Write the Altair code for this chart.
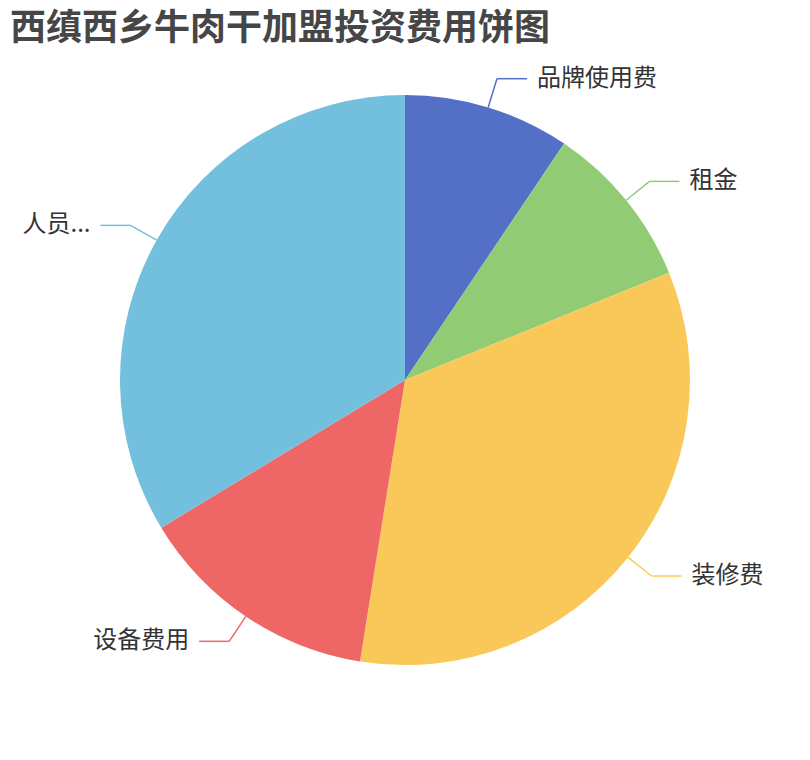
import altair as alt
import pandas as pd

# ---- data ----
categories = ["品牌使用费", "租金", "装修费", "设备费用", "人员工资"]
labels = ["品牌使用费", "租金", "装修费", "设备费用", "人员..."]
values = [2.8, 2.8, 10.0, 4.1, 10.0]
colors = ["#5470c6", "#91cc75", "#fac858", "#ee6666", "#73c0de"]
title_text = "西缜西乡牛肉干加盟投资费用饼图"

df = pd.DataFrame({
    "category": categories,
    "label": labels,
    "value": values,
    "order": list(range(len(categories))),
})

# ---- layout ----
W, H = 794, 694
PAD_TOP = 50
CX, CY, R = 397, 322, 285
L1, L2, GAP = 30, 30, 10

color_scale = alt.Scale(domain=categories, range=colors)

base = alt.Chart(df)

pie = base.mark_arc(radius=R).encode(
    theta=alt.Theta("value:Q", stack=True),
    color=alt.Color("category:N", scale=color_scale, legend=None),
    order=alt.Order("order:Q"),
    x=alt.value(CX),
    y=alt.value(CY),
)

geo = base.transform_joinaggregate(total="sum(value)").transform_window(
    cum="sum(value)", sort=[alt.SortField("order")], frame=[None, 0]
).transform_calculate(
    mid="((datum.cum - datum.value / 2) / datum.total) * 2 * PI",
).transform_calculate(
    s="sin(datum.mid)", c="cos(datum.mid)",
).transform_calculate(
    x0=f"{CX} + {R} * datum.s",
    y0=f"{CY} - {R} * datum.c",
    x1=f"{CX} + {R + L1} * datum.s",
    y1=f"{CY} - {R + L1} * datum.c",
).transform_calculate(
    dir="datum.s >= 0 ? 1 : -1",
).transform_calculate(
    x2=f"datum.x1 + datum.dir * {L2}",
    tx=f"datum.x1 + datum.dir * {L2 + GAP}",
)

seg1 = geo.mark_rule(strokeWidth=1.5).encode(
    x=alt.X("x0:Q", scale=None), y=alt.Y("y0:Q", scale=None),
    x2="x1:Q", y2="y1:Q",
    color=alt.Color("category:N", scale=color_scale, legend=None),
)
seg2 = geo.mark_rule(strokeWidth=1.5).encode(
    x=alt.X("x1:Q", scale=None), y=alt.Y("y1:Q", scale=None),
    x2="x2:Q", y2="y1:Q",
    color=alt.Color("category:N", scale=color_scale, legend=None),
)

text_left = geo.transform_filter("datum.dir > 0").mark_text(
    align="left", baseline="middle", fontSize=24, color="#333333",
    font="Noto Sans CJK SC",
).encode(
    x=alt.X("tx:Q", scale=None), y=alt.Y("y1:Q", scale=None), text="label:N",
)
text_right = geo.transform_filter("datum.dir < 0").mark_text(
    align="right", baseline="middle", fontSize=24, color="#333333",
    font="Noto Sans CJK SC",
).encode(
    x=alt.X("tx:Q", scale=None), y=alt.Y("y1:Q", scale=None), text="label:N",
)

chart = alt.layer(pie, seg1, seg2, text_left, text_right).properties(
    width=W, height=H,
    autosize=alt.AutoSizeParams(type="none"),
    padding={"left": 0, "top": PAD_TOP, "right": 0, "bottom": 0},
    title=alt.TitleParams(
        text=title_text, anchor="start", frame="group", fontSize=36,
        fontWeight="bold", color="#464646", font="Noto Sans CJK SC",
        offset=10, dx=2, lineHeight=36,
    ),
).configure_view(stroke=None)

chart.save("out.html", embed_options={"renderer": "svg", "actions": False})
